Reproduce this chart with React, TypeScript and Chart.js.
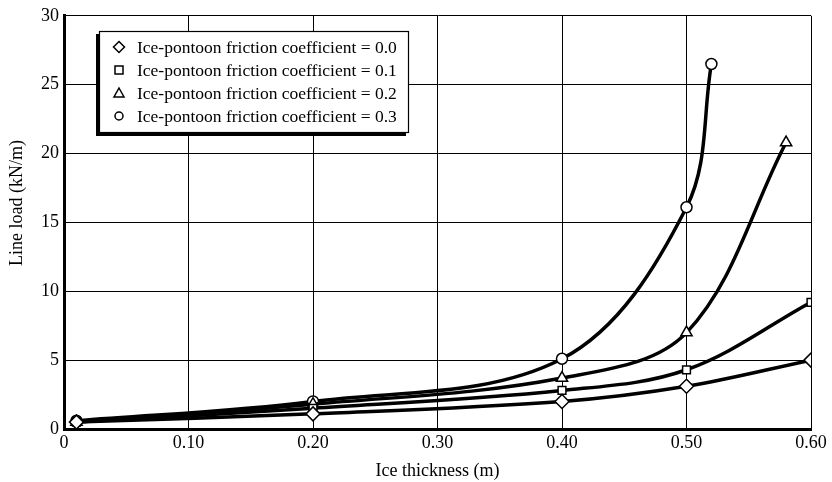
import React, { useEffect, useRef } from "react";
import { Chart, registerables } from "chart.js";

Chart.register(...registerables);

const thickness0 = [0.01, 0.2, 0.4, 0.5, 0.6];
const load0 = [0.5, 1.1, 2.0, 3.1, 5.0];
const thickness1 = [0.01, 0.2, 0.4, 0.5, 0.6];
const load1 = [0.5, 1.5, 2.8, 4.3, 9.2];
const thickness2 = [0.01, 0.2, 0.4, 0.5, 0.58];
const load2 = [0.5, 1.8, 3.7, 7.0, 20.8];
const thickness3 = [0.01, 0.2, 0.4, 0.5, 0.52];
const load3 = [0.6, 2.0, 5.1, 16.1, 26.5];

const seriesLabels = [
  "Ice-pontoon friction coefficient = 0.0",
  "Ice-pontoon friction coefficient = 0.1",
  "Ice-pontoon friction coefficient = 0.2",
  "Ice-pontoon friction coefficient = 0.3",
];
const xTitle = "Ice thickness (m)";
const yTitle = "Line load (kN/m)";
const pointStyles = ["rectRot", "rect", "triangle", "circle"];
const pointRadii = [7, 5.5, 6.5, 5.5];

const FONT = "'Liberation Serif', 'Times New Roman', serif";

const legendPlugin = {
  id: "boxLegend",
  afterDraw(chart: any) {
    const ctx = chart.ctx;
    const x = 99, y = 31, w = 310, h = 102;
    ctx.save();
    // y axis title
    ctx.fillStyle = "#000";
    ctx.font = `18px ${FONT}`;
    ctx.textAlign = "center";
    ctx.textBaseline = "middle";
    ctx.translate(17, 203);
    ctx.rotate(-Math.PI / 2);
    ctx.fillText(yTitle, 0, 0);
    ctx.setTransform(1, 0, 0, 1, 0, 0);
    // legend box
    ctx.fillStyle = "#000";
    ctx.fillRect(x - 3, y + 3, w, h);
    ctx.fillStyle = "#fff";
    ctx.fillRect(x, y, w, h);
    ctx.strokeStyle = "#000";
    ctx.lineWidth = 1.2;
    ctx.strokeRect(x + 0.5, y + 0.5, w - 1, h - 1);
    const rowY = [47, 70, 93, 116];
    const sizes = [5.5, 4, 5, 4];
    ctx.font = `17.5px ${FONT}`;
    ctx.textBaseline = "middle";
    ctx.textAlign = "left";
    for (let i = 0; i < 4; i++) {
      const cx = 119, cy = rowY[i];
      ctx.lineWidth = 1.5;
      ctx.strokeStyle = "#000";
      ctx.fillStyle = "#fff";
      const s = sizes[i];
      ctx.beginPath();
      if (i === 0) {
        ctx.moveTo(cx, cy - s); ctx.lineTo(cx + s, cy); ctx.lineTo(cx, cy + s); ctx.lineTo(cx - s, cy); ctx.closePath();
      } else if (i === 1) {
        ctx.rect(cx - s, cy - s, 2 * s, 2 * s);
      } else if (i === 2) {
        ctx.moveTo(cx, cy - s); ctx.lineTo(cx + s, cy + s * 0.8); ctx.lineTo(cx - s, cy + s * 0.8); ctx.closePath();
      } else {
        ctx.arc(cx, cy, s, 0, Math.PI * 2);
      }
      ctx.fill();
      ctx.stroke();
      ctx.fillStyle = "#000";
      ctx.fillText(seriesLabels[i], 137, cy + 1);
    }
    ctx.restore();
  },
};

export default function App() {
  const ref = useRef<HTMLCanvasElement>(null);
  useEffect(() => {
    document.body.style.margin = "0";
    const xs = [thickness0, thickness1, thickness2, thickness3];
    const ys = [load0, load1, load2, load3];
    const chart = new Chart(ref.current!, {
      type: "line",
      data: {
        datasets: ys.map((arr, i) => ({
          label: seriesLabels[i],
          data: arr.map((v, j) => ({ x: xs[i][j], y: v })),
          borderColor: "#000",
          borderWidth: 3.5,
          backgroundColor: "#fff",
          pointStyle: pointStyles[i] as any,
          pointRadius: pointRadii[i],
          pointBorderWidth: 1.5,
          pointBorderColor: "#000",
          pointBackgroundColor: "#fff",
          tension: 0.35,
          fill: false,
        })),
      },
      options: {
        responsive: false,
        animation: false,
        layout: { padding: { left: 0, right: 21, top: 12, bottom: 0 } },
        plugins: { legend: { display: false }, tooltip: { enabled: false } },
        scales: {
          x: {
            type: "linear",
            min: 0,
            max: 0.6,
            ticks: {
              stepSize: 0.1,
              color: "#000",
              font: { family: FONT, size: 18 },
              padding: 3,
              maxRotation: 0,
              callback: (v: any) => (Number(v) === 0 ? "0" : Number(v).toFixed(2)),
            },
            grid: { color: "#000", lineWidth: 1, drawTicks: false },
            border: { display: true, color: "#000", width: 3 },
            title: {
              display: true,
              text: xTitle,
              color: "#000",
              font: { family: FONT, size: 18 },
              padding: { top: 0, bottom: 0 },
            },
            afterFit: (s: any) => { s.height = 53; },
          },
          y: {
            type: "linear",
            min: 0,
            max: 30,
            ticks: {
              stepSize: 5,
              color: "#000",
              font: { family: FONT, size: 18 },
              padding: 5,
            },
            grid: { color: "#000", lineWidth: 1, drawTicks: false },
            border: { display: true, color: "#000", width: 3 },
            afterFit: (s: any) => { s.width = 64; },
          },
        },
      },
      plugins: [legendPlugin],
    });
    return () => chart.destroy();
  }, []);
  return (
    <div style={{ position: "absolute", left: 0, top: 0, width: 832, height: 482, background: "#fff" }}>
      <canvas ref={ref} width={832} height={482} />
    </div>
  );
}
